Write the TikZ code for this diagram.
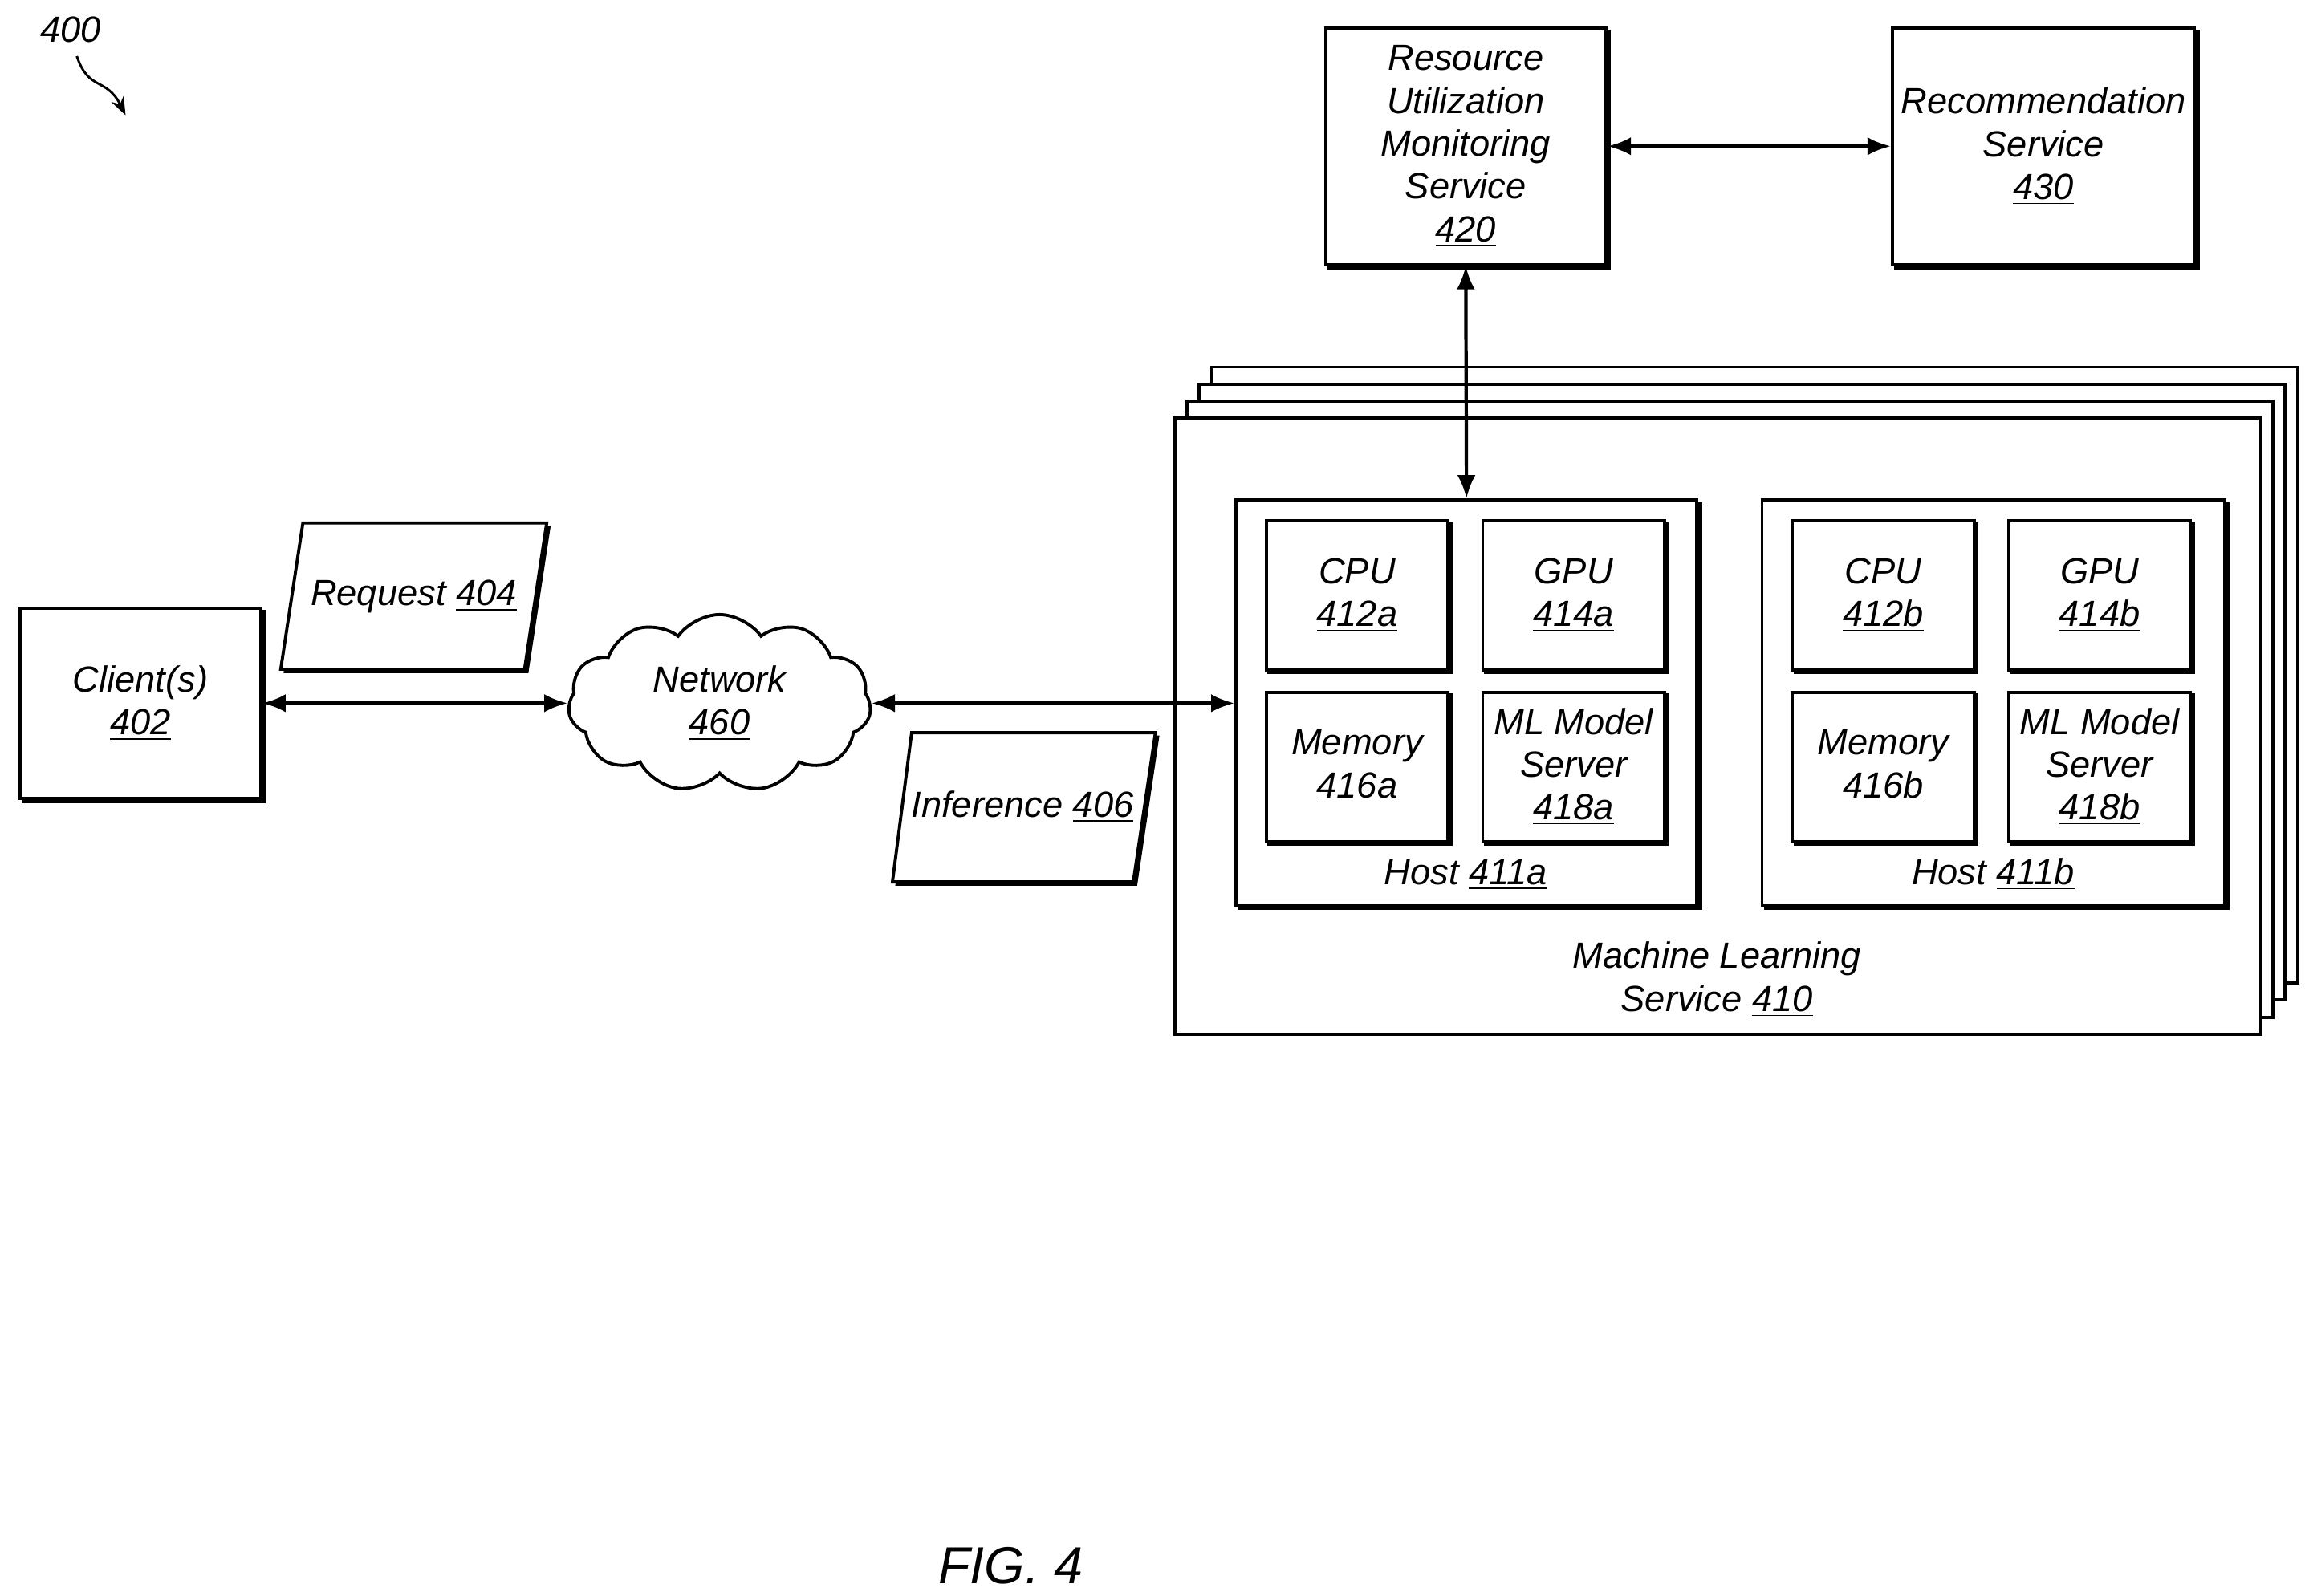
\documentclass[tikz,border=0pt]{standalone}
\usepackage{fontspec}
\setmainfont{Liberation Sans}
\usetikzlibrary{shapes, arrows.meta, positioning, calc, shadows}

\newcommand{\dgfont}{\itshape\fontsize{14}{16.5}\selectfont}
\tikzset{
  box/.style={draw, line width=1.2pt, fill=white, align=center, font=\dgfont,
    copy shadow={shadow xshift=1.3pt, shadow yshift=-1.3pt, draw=black, fill=black}},
  inbox/.style={draw, line width=1.2pt, fill=white, align=center, font=\dgfont,
    minimum width=2.46cm, minimum height=2.02cm,
    copy shadow={shadow xshift=1.1pt, shadow yshift=-1.1pt, draw=black, fill=black}},
  para/.style={draw, line width=1.2pt, fill=white,
    copy shadow={shadow xshift=1.3pt, shadow yshift=-1.3pt, draw=black, fill=black}},
  link/.style={{Latex[length=9pt,width=7pt]}-{Latex[length=9pt,width=7pt]}, line width=1.3pt}
}

\begin{document}
\begin{tikzpicture}[x=0.02cm, y=-0.02cm]
\useasboundingbox (0,0) rectangle (1560,1080);

% figure number
\node[font=\dgfont] (fig) at (48,20) {400};
\coordinate (figtip) at (85,78);
\draw[-{Stealth[length=7pt]}, line width=0.9pt] (52,38) .. controls (60,62) and (72,52) .. (figtip);

% client, request, network, inference
\node[box, minimum width=3.26cm, minimum height=2.58cm] (client) at (95,476) {Client(s)\\\underline{402}};
\draw[para] (190,453) -- (205,354) -- (370,354) -- (355,453) -- cycle;
\node[font=\dgfont] (req) at (280,404) {Request \underline{404}};
\node[draw, cloud, cloud puffs=11, cloud puff arc=110, aspect=1.7, line width=1.2pt, fill=white, minimum width=4.1cm, minimum height=2.4cm, align=center, font=\dgfont] (net) at (487,476) {Network\\\underline{460}};
\draw[para] (604,597) -- (617,496) -- (782,496) -- (767,597) -- cycle;
\node[font=\dgfont] (inf) at (692,546) {Inference \underline{406}};

% monitoring and recommendation
\node[box, minimum width=3.8cm, minimum height=3.2cm] (rum) at (992,99) {Resource\\Utilization\\Monitoring\\Service\\\underline{420}};
\node[box, minimum width=3.8cm, minimum height=3.2cm] (rec) at (1383,99) {Recommendation\\Service\\\underline{430}};

% machine learning service stack
\foreach \k in {3,2,1} {
  \draw[line width=1.2pt, fill=white] ($(795,283)+(8.3*\k,-11.5*\k)$) rectangle ($(1530,700)+(8.3*\k,-11.5*\k)$);
}
\draw[line width=1.2pt, fill=white] (795,283) rectangle (1530,700);
\node[align=center, font=\dgfont] (mls) at (1162,663) {Machine Learning\\Service \underline{410}};

% hosts
\node[box, minimum width=6.24cm, minimum height=5.48cm] (hosta) at (992.5,475.5) {};
\node[box, minimum width=6.26cm, minimum height=5.48cm] (hostb) at (1349,475.5) {};
\node[font=\dgfont] (hla) at (992,592) {Host \underline{411a}};
\node[font=\dgfont] (hlb) at (1349,592) {Host \underline{411b}};

\foreach \h/\dx in {a/0, b/356} {
  \node[inbox] (cpu\h) at (918.5+\dx,403) {CPU\\\underline{412\h}};
  \node[inbox] (gpu\h) at (1065+\dx,403) {GPU\\\underline{414\h}};
  \node[inbox] (mem\h) at (918.5+\dx,519) {Memory\\\underline{416\h}};
  \node[inbox] (mls\h) at (1065+\dx,519) {ML Model\\Server\\\underline{418\h}};
}

% connections
\draw[link] (client.east |- 0,476) -- (net.west);
\draw[link] (net.east) -- (hosta.west |- 0,476);
\draw[link] (rum.east) -- (rec.west);
\draw[link] (rum.south) -- (hosta.north);

\node[font=\itshape\fontsize{20}{24}\selectfont] (cap) at (684,1060) {FIG. 4};
\end{tikzpicture}
\end{document}
